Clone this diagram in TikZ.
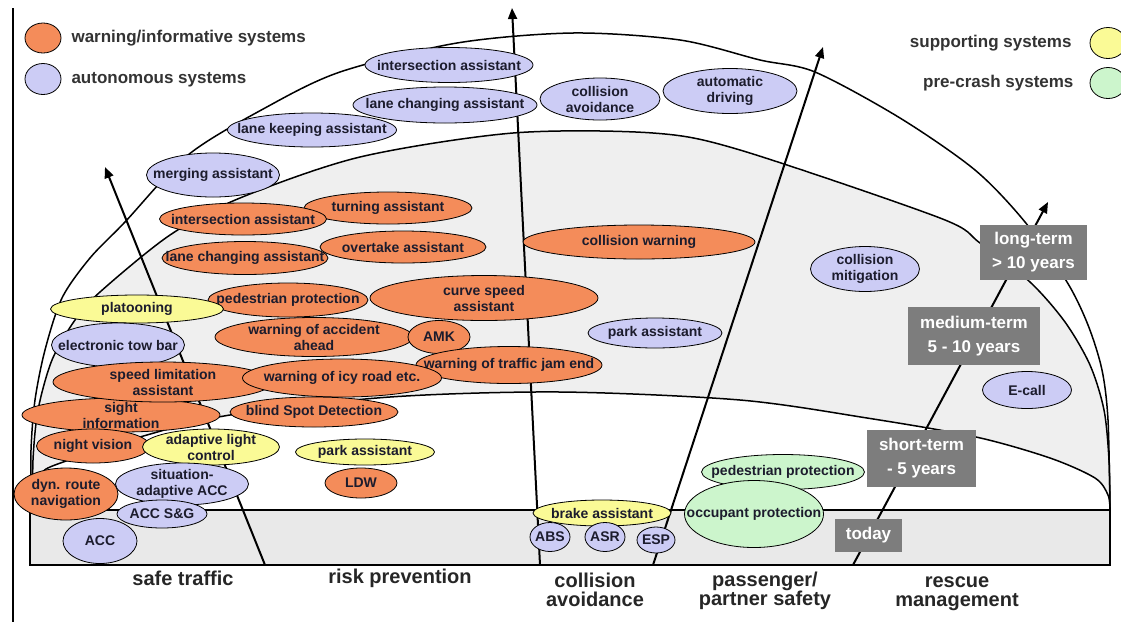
\documentclass[tikz,border=0pt]{standalone}
\usepackage{fontspec}
\setmainfont{Liberation Sans}
\usetikzlibrary{shapes.geometric,arrows.meta}
\definecolor{orgf}{RGB}{244,140,90}
\definecolor{bluf}{RGB}{204,204,245}
\definecolor{yelf}{RGB}{250,250,150}
\definecolor{grnf}{RGB}{204,245,204}
\definecolor{midg}{RGB}{239,239,239}
\definecolor{bandg}{RGB}{233,233,233}
\definecolor{boxg}{RGB}{125,125,125}
\definecolor{txtc}{RGB}{28,28,45}
\tikzset{
 ell/.style={ellipse, draw=black, line width=0.8pt, inner sep=-60pt, align=center, text=txtc, font=\fontsize{14}{16}\selectfont\bfseries},
 oell/.style={ell, fill=orgf},
 bell/.style={ell, fill=bluf},
 yell/.style={ell, fill=yelf},
 gell/.style={ell, fill=grnf},
 wh/.style 2 args={minimum width=#1pt, minimum height=#2pt},
 tbox/.style={fill=boxg, text=white, font=\fontsize{17}{24}\selectfont\bfseries, align=center, inner sep=0pt},
 axlab/.style={font=\fontsize{20}{19}\selectfont\bfseries, text=black!85, align=center},
 legt/.style={font=\fontsize{17}{20}\selectfont\bfseries, text=black!80},
 domeline/.style={line width=1.5pt, black},
 axarr/.style={line width=2pt, -{Triangle[length=11pt,width=9pt]}},
}
\begin{document}
\begin{tikzpicture}[x=1pt,y=-1pt]
\fill[white] (0,0) rectangle (1121,622);
\useasboundingbox (0,0) rectangle (1121,622);
% frame line
\coordinate (fr1) at (13,8); \coordinate (fr2) at (13,622);
\draw[line width=1.2pt] (fr1) -- (fr2);
% dome fills
\fill[midg] plot[smooth] coordinates {(33,510) (33,460) (38,410) (52,360) (75,320) (100,292) (170,235) (240,198) (360,157) (513,133) (653,133) (740,150) (940,218) (980,243) (1030,282) (1065,322) (1090,365) (1104,410) (1109,460) (1110,510)} -- cycle;
\fill[white] plot[smooth] coordinates {(33,510) (33,490) (42,474) (55,465) (140,437) (230,415) (390,397) (560,392) (740,400) (867,418) (976,437) (1050,458) (1095,478) (1108,495) (1110,510)} -- cycle;
\fill[bandg] (30,510) rectangle (1110,565);
% dome lines
\draw[domeline] plot[smooth] coordinates {(31,510) (31,450) (35,400) (45,350) (62,298) (90,258) (125,222) (188,155) (265,108) (340,72) (457,43) (573,33) (680,40) (760,60) (815,72) (900,118) (975,170) (1025,222) (1067,282) (1088,325) (1102,370) (1108,420) (1110,510)};
\draw[domeline] plot[smooth] coordinates {(33,510) (33,460) (38,410) (52,360) (75,320) (100,292) (170,235) (240,198) (360,157) (513,133) (653,133) (740,150) (940,218) (980,243) (1030,282) (1065,322) (1090,365) (1104,410) (1109,460) (1110,510)};
\draw[domeline] plot[smooth] coordinates {(33,510) (33,490) (42,474) (55,465) (140,437) (230,415) (390,397) (560,392) (740,400) (867,418) (976,437) (1050,458) (1095,478) (1108,495) (1110,510)};
\draw[domeline] (30,510) rectangle (1110,565);
% axis arrows
\coordinate (stA) at (265,565); \coordinate (stB) at (105,167);
\coordinate (caA) at (540,565); \coordinate (caB) at (512,8);
\coordinate (psA) at (653,565); \coordinate (psB) at (823,47);
\coordinate (rmA) at (853,565); \coordinate (rmB) at (1048,202);
\draw[axarr] (stA) -- (stB);
\draw[axarr] (caA) -- (caB);
\draw[axarr] (psA) -- (psB);
\draw[axarr] (rmA) -- (rmB);
% legend
\node[oell, wh={36}{30}] (lgo) at (43,38) {};
\node[bell, wh={36}{31}] (lgb) at (43,79) {};
\node[yell, wh={36}{31}] (lgy) at (1108,43) {};
\node[gell, wh={36}{31}] (lgg) at (1108,83) {};
\node[legt, anchor=west] (lgot) at (68,38) {warning/informative systems};
\node[legt, anchor=west] (lgbt) at (68,80) {autonomous systems};
\node[legt, anchor=east] (lgyt) at (1075,43) {supporting systems};
\node[legt, anchor=east] (lggt) at (1077,83) {pre-crash systems};
% long-term (outer band)
\node[bell, wh={168}{35}] (b1) at (449,65) {intersection assistant};
\node[bell, wh={184}{36}] (b2) at (445,105) {lane changing assistant};
\node[bell, wh={169}{34}] (b4) at (312,130) {lane keeping assistant};
\node[bell, wh={120}{42}] (b3) at (600,99) {collision\\avoidance};
\node[bell, wh={134}{45}] (b5) at (730,91) {automatic\\driving};
\node[bell, wh={133}{44}] (b6) at (213,175) {merging assistant};
% medium-term
\node[oell, wh={168}{32}] (o2) at (388,208) {turning assistant};
\node[oell, wh={167}{32}] (o1) at (243,219) {intersection assistant};
\node[oell, wh={166}{33}] (o3) at (245,258) {lane changing assistant};
\node[oell, wh={166}{32}] (o4) at (403,247) {overtake assistant};
\node[oell, wh={232}{34}] (o5) at (639,242) {collision warning};
\node[oell, wh={160}{34}] (o6) at (288,300) {pedestrian protection};
\node[oell, wh={228}{45}] (o7) at (484,298) {curve speed\\assistant};
\node[yell, wh={173}{28}] (y1) at (137,309) {platooning};
\node[bell, wh={133}{44}] (b7) at (118,345) {electronic tow bar};
\node[oell, wh={198}{39}] (o8) at (314,337) {warning of accident\\ahead};
\node[oell, wh={62}{33}] (o9) at (439,337) {AMK};
\node[oell, wh={186}{37}] (o10) at (509,365) {warning of traffic jam end};
\node[bell, wh={134}{30}] (b8) at (655,333) {park assistant};
\node[oell, wh={198}{34}] (o11) at (121,415) {sight\\information};
\node[oell, wh={220}{40}] (o12) at (163,382) {speed limitation\\assistant};
\node[oell, wh={199}{38}] (o13) at (342,378) {warning of icy road etc.};
\node[bell, wh={109}{45}] (b9) at (865,269) {collision\\mitigation};
\node[bell, wh={89}{37}] (b10) at (1027,390) {E-call};
% short-term
\node[oell, wh={168}{30}] (o14) at (314,412) {blind Spot Detection};
\node[oell, wh={113}{34}] (o15) at (93,446) {night vision};
\node[yell, wh={137}{36}] (y2) at (211,447) {adaptive light\\control};
\node[yell, wh={139}{26}] (y3) at (365,452) {park assistant};
\node[oell, wh={72}{30}] (o16) at (361,483) {LDW};
\node[oell, wh={104}{52}] (o17) at (66,494) {dyn. route\\navigation};
\node[bell, wh={133}{42}] (b11) at (182,484) {situation-\\adaptive ACC};
\node[bell, wh={74}{45}] (b12) at (100,541) {ACC};
\node[bell, wh={90}{28}] (b13) at (162,514) {ACC S\&G};
\node[gell, wh={163}{35}] (g1) at (783,472) {pedestrian protection};
\node[gell, wh={139}{67}] (g2) at (754,514) {occupant protection};
\node[yell, wh={138}{26}] (y4) at (602,513) {brake assistant};
\node[bell, wh={40}{29}] (b14) at (550,537) {ABS};
\node[bell, wh={40}{29}] (b15) at (605,537) {ASR};
\node[bell, wh={38}{26}] (b16) at (656,540) {ESP};
% time boxes
\node[tbox, wh={107}{55}] (t1) at (1033.5,252.5) {long-term\\> 10 years};
\node[tbox, wh={132}{58}] (t2) at (974,336) {medium-term\\5 - 10 years};
\node[tbox, wh={109}{57}] (t3) at (921.5,458.5) {short-term\\- 5 years};
\node[tbox, wh={67}{33}] (t4) at (868.5,535.5) {today};
% axis labels
\node[axlab] (l1) at (183,578) {safe traffic};
\node[axlab] (l2) at (400,578) {risk prevention};
\node[axlab] (l3) at (595,590) {collision\\avoidance};
\node[axlab] (l4) at (765,591) {passenger/\\partner safety};
\node[axlab] (l5) at (957,594) {rescue\\management};
\end{tikzpicture}
\end{document}
